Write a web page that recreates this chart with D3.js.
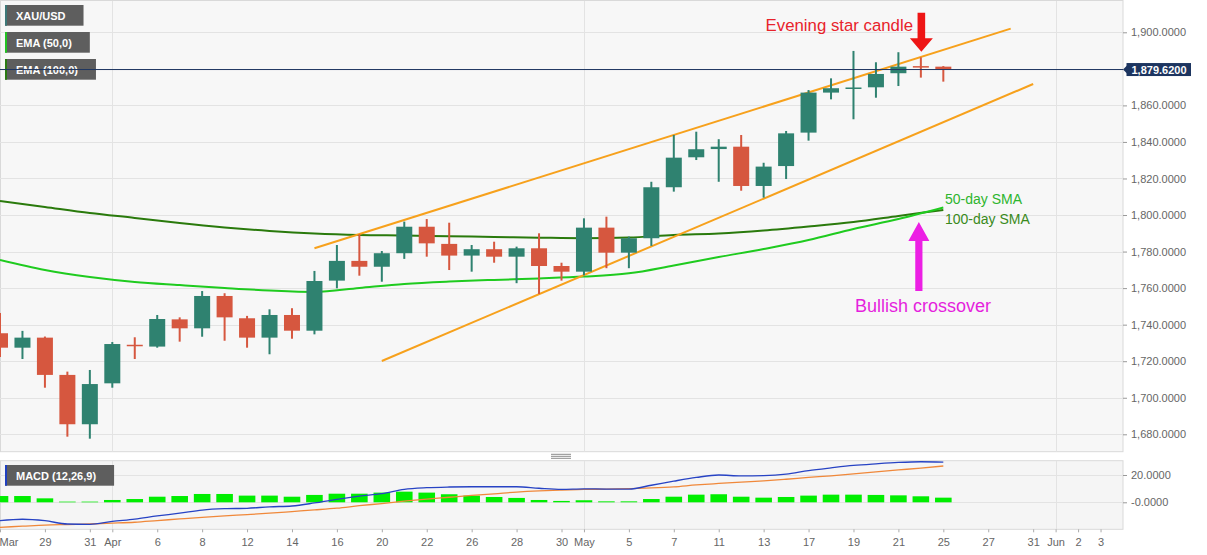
<!DOCTYPE html>
<html><head><meta charset="utf-8">
<script src="https://cdn.jsdelivr.net/npm/d3@7"></script>
<style>
html,body{margin:0;padding:0;background:#fff;}
svg{display:block;font-family:"Liberation Sans",Arial,Helvetica,sans-serif;}
</style></head><body>
<svg id="chart" width="1207" height="555"></svg>
<script>
// ---------------- DATA ----------------
const dates = ["2021-03-25","2021-03-26","2021-03-29","2021-03-30","2021-03-31","2021-04-01","2021-04-05","2021-04-06","2021-04-07","2021-04-08",
  "2021-04-09","2021-04-12","2021-04-13","2021-04-14","2021-04-15","2021-04-16","2021-04-19","2021-04-20","2021-04-21","2021-04-22",
  "2021-04-23","2021-04-26","2021-04-27","2021-04-28","2021-04-29","2021-04-30","2021-05-03","2021-05-04","2021-05-05","2021-05-06",
  "2021-05-07","2021-05-10","2021-05-11","2021-05-12","2021-05-13","2021-05-14","2021-05-17","2021-05-18","2021-05-19","2021-05-20",
  "2021-05-21","2021-05-24","2021-05-25"];
const open  = [1735.3,1727.4,1732.9,1712.5,1685.5,1707.9,1729.0,1728.0,1742.9,1738.0,1755.7,1743.5,1732.9,1745.3,1736.7,1764.1,1774.9,1771.7,1779.1,1793.6,1784.2,1777.8,1781.3,1777.2,1781.8,1772.1,1769.0,1793.1,1779.4,1787.3,1815.2,1831.6,1836.1,1837.4,1815.9,1826.8,1845.1,1867.0,1869.6,1869.9,1877.6,1881.5,1881.2];
const high  = [1746.4,1736.6,1733.5,1714.3,1715.2,1730.5,1733.1,1745.3,1744.0,1758.4,1757.2,1744.8,1748.4,1749.0,1769.4,1783.6,1789.5,1780.3,1796.4,1797.8,1795.8,1783.6,1785.4,1782.7,1790.0,1773.9,1798.2,1799.1,1788.2,1818.2,1843.8,1845.6,1841.5,1843.8,1828.6,1846.0,1868.4,1874.8,1889.8,1883.6,1889.1,1886.3,1881.5];
const low   = [1722.3,1721.2,1705.5,1678.7,1677.6,1705.5,1721.2,1727.4,1730.7,1733.4,1731.2,1727.4,1723.8,1732.3,1734.7,1759.9,1766.8,1763.5,1776.0,1777.2,1769.9,1769.0,1773.9,1762.7,1756.8,1764.1,1767.0,1770.9,1770.9,1783.1,1812.8,1830.1,1818.2,1813.3,1809.5,1819.7,1840.7,1863.3,1852.4,1864.2,1870.6,1875.2,1873.0];
const close = [1727.4,1732.9,1712.5,1685.5,1707.5,1729.4,1728.3,1743.1,1738.0,1755.7,1744.0,1732.9,1745.3,1736.7,1763.9,1774.9,1771.7,1779.1,1793.6,1784.5,1777.8,1781.3,1777.2,1781.8,1772.1,1769.0,1793.1,1779.4,1787.3,1815.2,1831.4,1836.0,1837.4,1815.9,1826.5,1844.7,1867.0,1869.4,1869.8,1877.2,1881.2,1881.0,1879.62];

const maIdx  = [0,2,4,6,8,10,12,14,16,18,20,22,24,26,28,30,32,34,36,38,40,42];
const ema50  = [1775.4,1769.9,1766.1,1763.4,1761.7,1760.1,1758.7,1757.9,1760.1,1762.3,1763.6,1764.5,1765.3,1766.3,1768.1,1772.4,1777.0,1781.4,1786.3,1792.4,1797.8,1804.1];
const ema100 = [1807.7,1804.4,1801.1,1798.4,1795.6,1793.2,1791.3,1789.9,1789.1,1788.8,1788.4,1788.0,1787.6,1787.3,1787.7,1789.1,1789.9,1791.5,1793.7,1796.2,1799.5,1802.8];

const macdLine   = [-13.5,-12.4,-13.5,-15.9,-16.1,-14.0,-12.3,-10.0,-8.0,-5.7,-4.7,-4.4,-3.3,-2.7,-0.5,2.2,4.5,6.3,9.5,10.7,11.2,11.4,11.4,11.4,10.3,9.5,9.9,9.7,9.7,12.5,15.5,18.2,20.0,19.3,19.5,20.6,23.2,25.2,27.0,28.2,29.2,29.7,29.5];
const signalLine = [-18.3,-17.5,-16.7,-16.3,-15.9,-15.3,-14.6,-13.4,-12.2,-11.0,-9.9,-9.0,-8.0,-6.8,-5.6,-4.3,-2.5,-0.9,0.8,2.4,3.7,5.0,6.2,7.5,8.4,9.0,9.4,9.7,10.0,10.5,11.3,12.7,13.8,14.8,15.7,16.9,18.2,19.4,20.8,22.3,23.7,25.1,26.6];
const macdHist   = [4.6,4.6,2.9,0.5,0.5,1.7,2.4,4.1,4.6,6.1,6.1,4.9,4.9,4.1,5.4,6.3,6.3,7.1,7.8,7.1,5.9,4.9,3.9,3.2,1.7,1.0,1.5,0.7,0.7,2.4,4.1,5.6,5.9,4.1,3.4,3.9,4.9,5.6,5.6,5.4,5.1,4.4,3.4];

const channelUpper = [{i:14, v:1781.8}, {i:45, v:1902.0}];
const channelLower = [{i:17, v:1720.1}, {i:46, v:1871.7}];

const priceGrid   = [1680,1700,1720,1740,1760,1780,1800,1820,1840,1860,1880,1900];
const priceTicks  = [1680,1700,1720,1740,1760,1780,1800,1820,1840,1860,1900];
const lastPrice   = 1879.62;
const macdTicks   = [0, 20];
const macdTickLabels = ["-0.0000","20.0000"];
const xTickIdx    = [0,2,4,5,7,9,11,13,15,17,19,21,23,25,26,28,30,32,34,36,38,40,42,44,46,47,48,49];
const xTickLabels = ["Mar","29","31","Apr","6","8","12","14","16","20","22","26","28","30","May","5","7","11","13","17","19","21","25","27","31","Jun","2","3"];
const monthStartIdx = [5,26,47];
const legendItems = [
  {label:"XAU/USD",     color:"#3d7878"},
  {label:"EMA (50,0)",  color:"#22c322"},
  {label:"EMA (100,0)", color:"#2a7a12"}
];
const macdLegend = {label:"MACD (12,26,9)", color:"#1f3fbf"};
const eveningIdx = 41, crossIdx = 41;

// ---------------- LAYOUT ----------------
const W = 1207, H = 555;
const plotL = 0, plotR = 1123;
const mainTop = 1, mainBot = 451.7;
const macdTop = 460.7, macdBot = 529.3;

const svg = d3.select("#chart");
const x  = d3.scaleLinear().domain([0, 50]).range([plotL, plotR]);
const y  = d3.scaleLinear().domain([1680, 1900]).range([434.3, 32.3]);
const ym = d3.scaleLinear().domain([0, 20]).range([502.3, 475]);

const defs = svg.append("defs");
defs.append("clipPath").attr("id","clipMain").append("rect")
  .attr("x",plotL).attr("y",mainTop).attr("width",plotR-plotL).attr("height",mainBot-mainTop);
defs.append("clipPath").attr("id","clipMacd").append("rect")
  .attr("x",plotL).attr("y",macdTop).attr("width",plotR-plotL).attr("height",macdBot-macdTop);

// backgrounds
svg.append("rect").attr("x",0).attr("y",0).attr("width",W).attr("height",H).attr("fill","#ffffff");
svg.append("rect").attr("x",plotL+0.5).attr("y",mainTop-0.5).attr("width",plotR-plotL-0.5).attr("height",mainBot-mainTop+0.5)
  .attr("fill","#f7f7f7").attr("stroke","#d9d9d9").attr("stroke-width",1);
svg.append("rect").attr("x",plotL+0.5).attr("y",macdTop).attr("width",plotR-plotL-0.5).attr("height",macdBot-macdTop)
  .attr("fill","#f5f5f5").attr("stroke","#d9d9d9").attr("stroke-width",1);

// handle between panels
const hx = 561;
[454.3,456.3,458.3].forEach(yy=>{
  svg.append("line").attr("x1",hx-10).attr("x2",hx+10).attr("y1",yy).attr("y2",yy)
    .attr("stroke","#8a8a8a").attr("stroke-width",1);
});

// ---------------- MAIN PANEL ----------------
const gMain = svg.append("g").attr("clip-path","url(#clipMain)");
gMain.selectAll("line.hgrid").data(priceGrid).join("line").attr("class","hgrid")
  .attr("x1",plotL).attr("x2",plotR).attr("y1",d=>Math.round(y(d))+0.5).attr("y2",d=>Math.round(y(d))+0.5)
  .attr("stroke","#e3e3e3").attr("stroke-width",1);
gMain.selectAll("line.vgrid").data(monthStartIdx).join("line").attr("class","vgrid")
  .attr("x1",d=>Math.round(x(d))+0.5).attr("x2",d=>Math.round(x(d))+0.5).attr("y1",mainTop).attr("y2",mainBot)
  .attr("stroke","#e3e3e3").attr("stroke-width",1);

// moving averages
const maLine = arr => d3.line().x((d,k)=>x(maIdx[k])).y(d=>y(d)).curve(d3.curveMonotoneX)(arr);
gMain.append("path").attr("d",maLine(ema100)).attr("fill","none").attr("stroke","#2a7a0c").attr("stroke-width",2);
gMain.append("path").attr("d",maLine(ema50)).attr("fill","none").attr("stroke","#1fcb1f").attr("stroke-width",2);

// channel
const chLine = d3.line().x(d=>x(d.i)).y(d=>y(d.v));
[channelUpper, channelLower].forEach(c=>{
  gMain.append("path").attr("d",chLine(c)).attr("fill","none").attr("stroke","#f7a11c").attr("stroke-width",2);
});

// candles
const candles = dates.map((d,i)=>({i, o:open[i], h:high[i], l:low[i], c:close[i]}));
const GREEN = "#2f8270", RED = "#d6573f";
const bodyW = 16;
const cg = gMain.append("g");
cg.selectAll("rect.wick").data(candles).join("rect").attr("class","wick")
  .attr("x",d=>x(d.i)-1).attr("width",2)
  .attr("y",d=>y(d.h)).attr("height",d=>Math.max(1,y(d.l)-y(d.h)))
  .attr("fill",d=>d.c>=d.o?GREEN:RED);
cg.selectAll("rect.body").data(candles).join("rect").attr("class","body")
  .attr("x",d=>x(d.i)-bodyW/2).attr("width",bodyW)
  .attr("y",d=>y(Math.max(d.o,d.c))).attr("height",d=>Math.max(1.5,Math.abs(y(d.o)-y(d.c))))
  .attr("fill",d=>d.c>=d.o?GREEN:RED);

// legend boxes
const lg = svg.append("g");
legendItems.forEach((it,k)=>{
  const by = 5 + k*27;
  const g = lg.append("g");
  const r = g.append("rect").attr("x",5).attr("y",by).attr("height",20.7).attr("fill","#5e5e5e");
  const t = g.append("text").attr("x",16).attr("y",by+14.6).attr("fill","#ffffff")
    .attr("font-size",11).attr("font-weight","bold").text(it.label);
  const tw = t.node().getComputedTextLength();
  r.attr("width", tw + 29);
  g.append("rect").attr("x",5).attr("y",by).attr("width",2).attr("height",20.7).attr("fill",it.color);
});

// last price line
svg.append("line").attr("x1",plotL).attr("x2",plotR).attr("y1",y(lastPrice)).attr("y2",y(lastPrice))
  .attr("stroke","#1d3560").attr("stroke-width",1);

// annotations
const ann = svg.append("g");
ann.append("text").attr("x",913).attr("y",30.5).attr("text-anchor","end")
  .attr("fill","#e8232b").attr("font-size",16.8).text("Evening star candle");
{
  const ax = x(eveningIdx)+0.5, top = y(1910.7), tip = y(1889.4), hb = tip - 13.5;
  ann.append("path").attr("d",`M${ax-3.8},${top} L${ax+3.8},${top} L${ax+3.8},${hb} L${ax+11.5},${hb} L${ax},${tip} L${ax-11.5},${hb} L${ax-3.8},${hb} Z`)
    .attr("fill","#ee1515");
}
{
  const ax = x(crossIdx)-2, tip = y(1796.2), bot = y(1758.4), hb = tip + 19;
  ann.append("path").attr("d",`M${ax-3.6},${bot} L${ax+3.6},${bot} L${ax+3.6},${hb} L${ax+10.5},${hb} L${ax},${tip} L${ax-10.5},${hb} L${ax-3.6},${hb} Z`)
    .attr("fill","#ec1fe4");
}
ann.append("text").attr("x",945).attr("y",204).attr("fill","#2db52d").attr("font-size",14).text("50-day SMA");
ann.append("text").attr("x",945).attr("y",224).attr("fill","#3a8a1c").attr("font-size",14).text("100-day SMA");
ann.append("text").attr("x",855).attr("y",312).attr("fill","#e51fdd").attr("font-size",18).text("Bullish crossover");

// right price axis
const yAxis = d3.axisRight(y).tickValues(priceTicks).tickSize(4).tickPadding(4)
  .tickFormat(d=>d3.format(",.4f")(d));
const gy = svg.append("g").attr("transform",`translate(${plotR},0)`).call(yAxis);
gy.select(".domain").remove();
gy.selectAll("line").attr("stroke","#999");
gy.selectAll("text").attr("fill","#666").attr("font-size",11).attr("font-family","Liberation Sans, Arial, sans-serif");

// last price label
{
  const py = y(lastPrice);
  svg.append("path").attr("d",`M${plotR},${py} L${plotR+4},${py-4} L${plotR+4},${py+4} Z`).attr("fill","#1d3560");
  svg.append("rect").attr("x",plotR+3.5).attr("y",py-6.5).attr("width",64.5).attr("height",13).attr("fill","#1d3560");
  svg.append("text").attr("x",plotR+8.5).attr("y",py+4).attr("fill","#fff").attr("font-size",11)
    .attr("font-weight","bold").text(d3.format(",.4f")(lastPrice));
}

// ---------------- MACD PANEL ----------------
const gM = svg.append("g").attr("clip-path","url(#clipMacd)");
gM.selectAll("line.hg").data(macdTicks).join("line").attr("class","hg")
  .attr("x1",plotL).attr("x2",plotR).attr("y1",d=>Math.round(ym(d))+0.5).attr("y2",d=>Math.round(ym(d))+0.5)
  .attr("stroke","#e3e3e3");
gM.selectAll("line.vg").data(monthStartIdx).join("line").attr("class","vg")
  .attr("x1",d=>Math.round(x(d))+0.5).attr("x2",d=>Math.round(x(d))+0.5).attr("y1",macdTop).attr("y2",macdBot)
  .attr("stroke","#e3e3e3");
gM.selectAll("rect.hist").data(macdHist).join("rect").attr("class","hist")
  .attr("x",(d,i)=>x(i)-8.3).attr("width",16.6)
  .attr("y",d=>ym(Math.max(0,d))).attr("height",d=>Math.abs(ym(d)-ym(0)))
  .attr("fill","#00ee00");
const mLine = d3.line().x((d,i)=>x(i)).y(d=>ym(d)).curve(d3.curveMonotoneX);
gM.append("path").attr("d",mLine(signalLine)).attr("fill","none").attr("stroke","#f0883a").attr("stroke-width",1.3);
gM.append("path").attr("d",mLine(macdLine)).attr("fill","none").attr("stroke","#2743c4").attr("stroke-width",1.3);

// macd legend
{
  const g = svg.append("g");
  const r = g.append("rect").attr("x",5).attr("y",465).attr("height",20.7).attr("fill","#5e5e5e");
  const t = g.append("text").attr("x",16).attr("y",479.6).attr("fill","#fff").attr("font-size",11)
    .attr("font-weight","bold").text(macdLegend.label);
  r.attr("width", t.node().getComputedTextLength()+29);
  g.append("rect").attr("x",5).attr("y",465).attr("width",2).attr("height",20.7).attr("fill",macdLegend.color);
}

// macd right axis
const ymAxis = d3.axisRight(ym).tickValues(macdTicks).tickSize(4).tickPadding(4)
  .tickFormat((d,i)=>macdTickLabels[i]);
const gym = svg.append("g").attr("transform",`translate(${plotR},0)`).call(ymAxis);
gym.select(".domain").remove();
gym.selectAll("line").attr("stroke","#999");
gym.selectAll("text").attr("fill","#666").attr("font-size",11).attr("font-family","Liberation Sans, Arial, sans-serif");

// x axis
const xAxis = d3.axisBottom(x).tickValues(xTickIdx).tickSize(3).tickPadding(6)
  .tickFormat((d,i)=>xTickLabels[i]);
const gx = svg.append("g").attr("transform",`translate(0,${macdBot})`).call(xAxis);
gx.select(".domain").remove();
gx.selectAll("line").attr("stroke","#aaa");
gx.selectAll("text").attr("fill","#666").attr("font-size",11).attr("font-family","Liberation Sans, Arial, sans-serif");
gx.selectAll(".tick").filter((d,i)=>i===0).select("text").attr("text-anchor","start").attr("x",-1);
</script>
</body></html>
